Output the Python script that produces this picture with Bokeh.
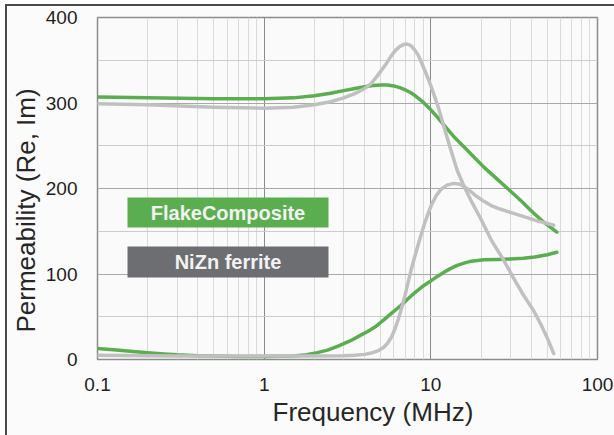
from bokeh.plotting import figure
from bokeh.models import FixedTicker, Label, Range1d, CustomJSTickFormatter, Title
from bokeh.embed import file_html
from bokeh.resources import INLINE

# ---------------- data ----------------
FREQ_FLAKE_RE = [0.1, 0.2, 0.5, 1, 1.5, 2, 2.5, 3, 3.5, 4, 4.5, 5, 5.5, 6, 6.5, 7, 7.5, 8, 9, 10,
                 11, 12.5, 14, 16.5, 18.5, 20.8, 25, 30, 35, 41, 48, 57]
FLAKE_RE = [307, 306, 305, 305, 306, 308.5, 311.5, 314.5, 317, 319, 320.5, 321, 321, 320, 318, 315.5,
            312.5, 309, 301, 292, 283, 270, 259, 245, 235, 225, 211, 197, 185, 172, 160, 149]

FREQ_FLAKE_IM = [0.1, 0.13, 0.17, 0.2, 0.25, 0.3, 0.4, 0.5, 0.7, 1, 1.5, 1.8, 2.08, 2.4, 2.8, 3.3, 3.8,
                 4.2, 4.7, 5.2, 5.8, 6.6, 7.3, 8, 9, 10, 11, 12, 13, 14.4, 16, 17.5, 20.8, 25, 30, 36,
                 42, 50, 57]
FLAKE_IM = [13, 11, 9, 8, 6.5, 5.5, 4.5, 4, 3.5, 3.5, 4, 5.5, 8, 11, 16, 22, 28.5, 33, 39, 46, 54, 63,
            71, 78, 86, 92, 97.5, 102, 106, 110, 113, 115, 116.6, 117, 117.5, 118.5, 120, 122.5, 125.5]

FREQ_NIZN_RE = [0.1, 0.2, 0.5, 1, 1.5, 2, 2.5, 3, 3.5, 4, 4.35, 4.7, 5, 5.4, 5.73, 6.1, 6.5, 6.9, 7.2,
                7.6, 8, 8.4, 8.67, 9.2, 9.7, 10.1, 11, 12, 13, 14.4, 15.8, 17.3, 20, 23, 27.4, 31, 35,
                41.4, 46, 50, 54.6]
NIZN_RE = [299, 298, 295, 294, 295, 298, 301.5, 306, 311, 317, 322, 330, 337, 346, 354, 361, 366,
           368.5, 369, 367, 362, 356, 350, 338, 327, 318, 297, 272, 249, 221, 203, 187, 164, 140, 116,
           97, 79, 57, 40, 25, 7]

FREQ_NIZN_IM = [0.1, 0.3, 1, 2, 3, 3.5, 4, 4.4, 4.8, 5.2, 5.5, 5.8, 6.1, 6.4, 6.7, 7, 7.3, 7.6, 8, 8.5,
                9.1, 9.6, 10.1, 10.8, 11.5, 12.5, 13.7, 15, 16.5, 18.5, 20.8, 23, 26, 30, 35, 42, 48,
                54.6]
NIZN_IM = [5, 4, 4, 4, 4.5, 5, 6, 7.5, 10, 14, 19, 26, 36, 48, 61, 75, 90, 104, 120, 138, 157, 170,
           181, 192, 199, 204, 206, 205, 200, 192, 185, 180, 176, 172, 168, 163, 160, 157]

X_TICKS = [0.1, 1, 10, 100]
X_MINOR = [m * d for d in (0.1, 1, 10) for m in range(2, 10)]
Y_TICKS = [0, 100, 200, 300, 400]
Y_MINOR = [50, 150, 250, 350]

LEGEND_NAMES = ["FlakeComposite", "NiZn ferrite"]
GREEN = "#5aae4f"
GRAY = "#c0c0c0"
LEGEND_COLORS = [GREEN, "#6d6e71"]

# ---------------- geometry (page pixels) ----------------
FL, FR, FT, FB = 97, 597, 17, 359


def px_to_f(px):
    return 10 ** (-1 + 3 * (px - FL) / (FR - FL))


def py_to_v(py):
    return 400 * (FB - py) / (FB - FT)


FONT = "Liberation Sans"

p = figure(
    x_axis_type="log",
    x_range=Range1d(0.1, 100),
    y_range=Range1d(0, 400),
    frame_width=500,
    frame_height=342,
    min_border_left=90,
    min_border_right=17,
    min_border_top=11,
    min_border_bottom=76,
    output_backend="svg",
    toolbar_location=None,
    background_fill_color="#fafafa",
    border_fill_color="#fbfbfb",
)
p.margin = (4, 0, 0, 5)
p.styles = {"border-left": "2px solid #4a4a4a", "border-top": "2px solid #4a4a4a"}

p.outline_line_color = "#8c8c8c"
p.outline_line_width = 1.5

# x axis
p.xaxis.ticker = FixedTicker(ticks=X_TICKS, minor_ticks=X_MINOR)
p.xaxis.formatter = CustomJSTickFormatter(code="return tick.toString();")
p.xaxis.major_label_standoff = 18
# y axis
p.yaxis.ticker = FixedTicker(ticks=Y_TICKS, minor_ticks=Y_MINOR)
p.yaxis.major_label_standoff = 20

for ax in (p.xaxis[0], p.yaxis[0]):
    ax.axis_line_color = None
    ax.major_tick_line_color = None
    ax.minor_tick_line_color = None
    ax.major_tick_out = 0
    ax.major_tick_in = 0
    ax.minor_tick_out = 0
    ax.minor_tick_in = 0
    ax.major_label_text_font = FONT
    ax.major_label_text_font_size = "19px"
    ax.major_label_text_color = "#1e1e1e"

p.xgrid.grid_line_color = "#8a8a8a"
p.xgrid.grid_line_width = 1
p.xgrid.minor_grid_line_color = "#dadada"
p.xgrid.minor_grid_line_width = 1
p.ygrid.grid_line_color = "#a8a8a8"
p.ygrid.minor_grid_line_color = "#cccccc"

# curves
LW = 3.5
kw = dict(line_width=LW, line_join="round", line_cap="round")
p.line(FREQ_FLAKE_RE, FLAKE_RE, line_color=GREEN, **kw)
p.line(FREQ_FLAKE_IM, FLAKE_IM, line_color=GREEN, **kw)
p.line(FREQ_NIZN_RE, NIZN_RE, line_color=GRAY, **kw)
p.line(FREQ_NIZN_IM, NIZN_IM, line_color=GRAY, **kw)

# legend boxes
box_rows = [(197, 227), (246, 277)]
for name, col, (t, b) in zip(LEGEND_NAMES, LEGEND_COLORS, box_rows):
    p.quad(left=px_to_f(127), right=px_to_f(328), top=py_to_v(t), bottom=py_to_v(b),
           fill_color=col, line_color=None)
    p.add_layout(Label(x=px_to_f(227.5), y=py_to_v((t + b) / 2), text=name,
                       text_align="center", text_baseline="middle",
                       text_font=FONT, text_font_style="bold", text_font_size="20px",
                       text_color="#f2f2f2"))

# axis titles
p.add_layout(Title(text="Frequency (MHz)", align="left", offset=175, standoff=2,
                   text_font=FONT, text_font_size="26px", text_font_style="normal",
                   text_color="#262626"), "below")
p.add_layout(Title(text="Permeability (Re, Im)", align="left", offset=27, standoff=3,
                   text_font=FONT, text_font_size="26px", text_font_style="normal",
                   text_color="#262626"), "left")

open("out.html", "w").write(file_html(p, INLINE))
